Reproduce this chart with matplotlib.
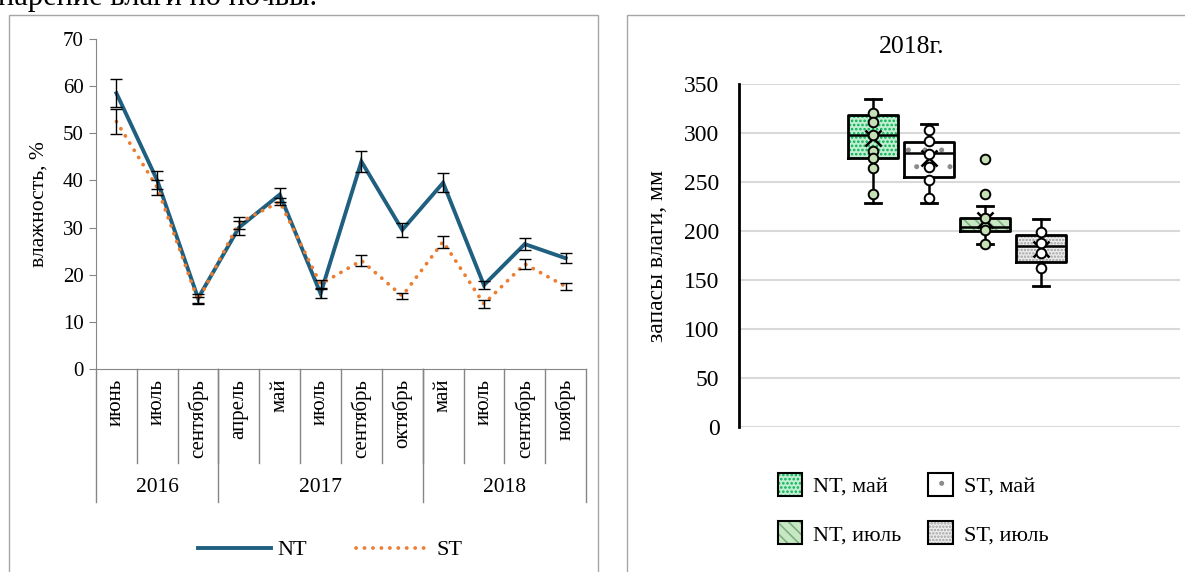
import matplotlib.pyplot as plt
from matplotlib.patches import Rectangle, Patch
from matplotlib.legend_handler import HandlerTuple
import matplotlib.transforms as mtransforms

plt.rcParams['font.family'] = 'serif'
plt.rcParams['font.serif'] = ['Liberation Serif', 'Times New Roman', 'DejaVu Serif']
plt.rcParams['hatch.linewidth'] = 1.2

# --- soil moisture by month, %
years = ['2016', '2017', '2018']
year_sizes = [3, 5, 4]
months = ['июнь', 'июль', 'сентябрь',
          'апрель', 'май', 'июль', 'сентябрь', 'октябрь',
          'май', 'июль', 'сентябрь', 'ноябрь']
nt = [58.5, 40.0, 15.0, 30.0, 37.0, 16.0, 44.0, 29.5, 39.5, 17.8, 26.5, 23.5]
nt_err = [3.0, 1.9, 0.9, 1.5, 1.5, 0.9, 2.2, 1.4, 2.0, 0.8, 1.2, 1.1]
st = [52.5, 38.5, 14.5, 31.0, 35.5, 18.0, 23.0, 15.5, 27.0, 13.8, 22.3, 17.5]
st_err = [2.7, 1.5, 0.8, 1.2, 0.8, 0.8, 1.1, 0.7, 1.3, 0.8, 1.0, 0.8]

# --- moisture stocks 2018, mm
box_labels = ['NT, май', 'ST, май', 'NT, июль', 'ST, июль']
box_q1 = [274, 255, 200, 168]
box_med = [298, 280, 204, 185]
box_q3 = [318, 291, 213, 196]
box_lo = [229, 229, 187, 144]
box_hi = [335, 309, 226, 212]
box_mean = [295, 274, 211, 182]
box_points = [
    [320, 311, 298, 282, 274, 264, 238],
    [303, 292, 279, 265, 252, 234],
    [273, 238, 213, 201, 187],
    [199, 188, 178, 162],
]

W, H = 1185, 572
fig = plt.figure(figsize=(W / 100, H / 100), dpi=100)

# panel frames
for x0, x1 in [(9, 598), (627, 1200)]:
    fig.add_artist(Rectangle((x0 / W, -0.1), (x1 - x0) / W, 1.1 - 15 / H,
                             transform=fig.transFigure, fill=False,
                             edgecolor='#a6a6a6', lw=1.0))

fig.text(-0.002, 1 - 5 / H, 'нарение влаги по почвы.', fontsize=22,
         va='baseline', ha='left')

# ---------------- left: line chart
gray = '#868686'
ax = fig.add_axes([96 / W, 1 - 369 / H, 490 / W, 330 / H])
x = list(range(len(months)))
ax.plot(x, nt, color='#1f5f80', lw=2.8, solid_joinstyle='miter', label='NT', zorder=3)
ax.plot(x, st, color='#ed7d31', lw=2.7, linestyle=(0, (0.05, 2.2)),
        dash_capstyle='round', label='ST', zorder=3)
ax.errorbar(x, nt, yerr=nt_err, fmt='none', ecolor='black', elinewidth=1,
            capsize=4, capthick=1, zorder=4)
ax.errorbar(x, st, yerr=st_err, fmt='none', ecolor='black', elinewidth=1,
            capsize=4, capthick=1, zorder=4)
ax.set_xlim(-0.5, len(months) - 0.5)
ax.set_ylim(0, 70)
ax.set_yticks(range(0, 71, 10))
ax.tick_params(axis='y', labelsize=15, color=gray, length=5, pad=4)
ax.set_xticks([])
for s in ['top', 'right']:
    ax.spines[s].set_visible(False)
for s in ['left', 'bottom']:
    ax.spines[s].set_color(gray)
ax.set_ylabel('влажность, %', fontsize=15.5, labelpad=10)

trans = mtransforms.blended_transform_factory(ax.transData, ax.transAxes)
for i, m in enumerate(months):
    ax.text(i, -0.03, m, rotation=90, ha='center', va='top', fontsize=15,
            transform=trans)
for b in range(1, len(months)):
    ax.plot([b - 0.5, b - 0.5], [0, -0.285], color=gray, lw=1,
            transform=trans, clip_on=False)
start = 0
for yr, n in zip(years, year_sizes):
    ax.text(start + n / 2 - 0.5, -0.36, yr, ha='center', va='center',
            fontsize=15.5, transform=trans)
    ax.plot([start - 0.5, start - 0.5], [0, -0.403], color=gray, lw=1,
            transform=trans, clip_on=False)
    start += n
ax.plot([start - 0.5, start - 0.5], [0, -0.403], color=gray, lw=1,
        transform=trans, clip_on=False)

fig.legend(handles=ax.get_lines()[:2], loc='center', bbox_to_anchor=(330 / W, 1 - 550 / H),
           ncol=2, frameon=False, fontsize=16, handlelength=3.3, columnspacing=2.2,
           handletextpad=0.3)

# ---------------- right: box plot
ax2 = fig.add_axes([739 / W, 1 - 427 / H, 441 / W, 343 / H])
pos = [1, 2, 3, 4]
width = 0.88
fills = ['#c2eed1', 'white', '#c8e8c4', '#eeeeee']
hatch_colors = ['#00b050', '#8c8c8c', '#7fae86', '#a0a0a0']
hatches = ['....', '.', '\\\\\\', '.....']
point_fc = ['#c5e0b4', 'white', '#c5e0b4', 'white']

stats = []
for i in range(4):
    stats.append(dict(med=box_med[i], q1=box_q1[i], q3=box_q3[i],
                      whislo=box_lo[i], whishi=box_hi[i], mean=box_mean[i],
                      fliers=[]))
    ax2.add_patch(Rectangle((pos[i] - width / 2, box_q1[i]), width,
                            box_q3[i] - box_q1[i], facecolor=fills[i],
                            edgecolor=hatch_colors[i], hatch=hatches[i], lw=0, zorder=2))

ax2.bxp(stats, positions=pos, widths=width, showmeans=True, showfliers=False,
        boxprops=dict(color='black', lw=2),
        medianprops=dict(color='black', lw=1.8),
        whiskerprops=dict(color='black', lw=1.8),
        capprops=dict(color='black', lw=2),
        capwidths=0.27,
        meanprops=dict(marker='x', markeredgecolor='black', markersize=11,
                       markeredgewidth=1.8),
        zorder=3, manage_ticks=False)
for i, pts in enumerate(box_points):
    ax2.scatter([pos[i]] * len(pts), pts, s=48, facecolor=point_fc[i],
                edgecolor='black', lw=1.4, zorder=4)

ax2.set_xlim(1 - 134 / 56, 1 - 134 / 56 + 441 / 56)
ax2.set_ylim(0, 350)
ax2.set_yticks(range(0, 351, 50))
ax2.set_xticks([])
ax2.grid(axis='y', color='#d9d9d9', lw=1.5)
ax2.set_axisbelow(True)
for s in ['top', 'right', 'bottom']:
    ax2.spines[s].set_visible(False)
ax2.spines['left'].set_linewidth(2)
ax2.tick_params(axis='y', length=0, labelsize=17, pad=14)
ax2.set_ylabel('запасы влаги, мм', fontsize=17, labelpad=12)
fig.text(912 / W, 1 - 47 / H, '2018г.', fontsize=18.5, ha='center', va='center')

handles = []
for i in range(4):
    handles.append((Patch(facecolor=fills[i], edgecolor=hatch_colors[i], hatch=hatches[i], lw=0),
                    Patch(facecolor='none', edgecolor='black', lw=1.5)))
order = [0, 2, 1, 3]
fig.legend([handles[i] for i in order], [box_labels[i] for i in order],
           handler_map={tuple: HandlerTuple(ndivide=1, pad=0)},
           loc='center', bbox_to_anchor=(913 / W, 1 - 509 / H), ncol=2, frameon=False,
           fontsize=16, handlelength=1.1, handleheight=1.2, labelspacing=1.1,
           columnspacing=1.2, handletextpad=0.5)

fig.savefig('out.png', dpi=100)
